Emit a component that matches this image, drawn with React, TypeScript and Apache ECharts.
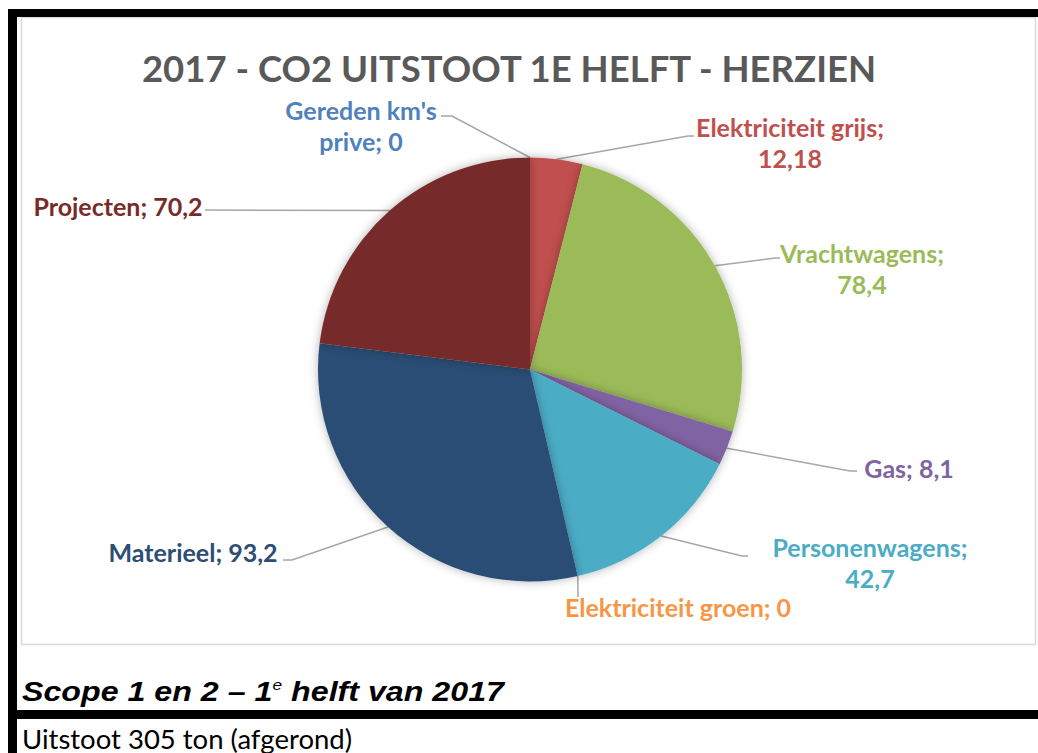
import React, { useEffect, useRef } from "react";
import * as echarts from "echarts";

const categories = [
  "Gereden km's prive",
  "Elektriciteit grijs",
  "Vrachtwagens",
  "Gas",
  "Personenwagens",
  "Elektriciteit groen",
  "Materieel",
  "Projecten",
];
const values = [0, 12.18, 78.4, 8.1, 42.7, 0, 93.2, 70.2];
const colors = ["#4F81BD", "#C0504D", "#9BBB59", "#8064A2", "#4BACC6", "#F79646", "#2C4D75", "#772C2A"];
const labelBreaks: (string | null)[] = ["km's ", "; ", "; ", null, "; ", null, null, null];
const titleText = "2017 - CO2 UITSTOOT 1E HELFT - HERZIEN";
const captionText = "Uitstoot 305 ton (afgerond)";

// label anchor positions (layout only)
const labelLayoutCfg: { x: number; y: number; align: string; bend: number[][] }[] = [
  { x: 361, y: 125, align: "center", bend: [[452, 116], [441, 116]] },
  { x: 790, y: 142, align: "center", bend: [[688, 136], [694, 136]] },
  { x: 862, y: 268, align: "center", bend: [[775, 258], [780, 258]] },
  { x: 909, y: 468, align: "center", bend: [[850, 471], [857, 471]] },
  { x: 870, y: 562, align: "center", bend: [[742, 556], [748, 556]] },
  { x: 678, y: 607, align: "center", bend: [[578, 597]] },
  { x: 193, y: 552, align: "center", bend: [[292, 560], [283, 560]] },
  { x: 118, y: 206, align: "center", bend: [[205, 210]] },
];

const fmt = (v: number) => String(v).replace(".", ",");

export default function App() {
  const ref = useRef<HTMLDivElement>(null);
  useEffect(() => {
    if (!ref.current) return;
    const chart = echarts.init(ref.current, null, { renderer: "svg" });
    const option: any = {
      animation: false,
      backgroundColor: "#ffffff",
      graphic: [
        { type: "rect", z: -10, shape: { x: 21.5, y: 17.5, width: 1014, height: 627 }, style: { fill: "#ffffff", stroke: "#d9d9d9", lineWidth: 1.5 } },
        { type: "rect", z: 10, shape: { x: 8, y: 9, width: 1030, height: 8 }, style: { fill: "#000000" } },
        { type: "rect", z: 10, shape: { x: 8, y: 9, width: 9, height: 744 }, style: { fill: "#000000" } },
        { type: "rect", z: 10, shape: { x: 8, y: 710, width: 1030, height: 9 }, style: { fill: "#000000" } },
        {
          type: "text",
          z: 10,
          x: 509,
          y: 68,
          style: {
            text: titleText,
            font: "bold 36.5px Lato",
            fill: "#595959",
            align: "center",
            verticalAlign: "middle",
          },
        },
        {
          type: "text",
          z: 10,
          x: 22,
          y: 705,
          scaleX: 1.15,
          style: {
            text: "{a|Scope 1 en 2 – 1}{s|e}{a| helft van 2017}",
            align: "left",
            verticalAlign: "bottom",
            rich: {
              a: { font: "italic bold 28px 'Liberation Sans'", fill: "#000000", verticalAlign: "bottom" },
              s: { font: "italic 15px 'Liberation Sans'", fill: "#000000", verticalAlign: "top", padding: [0, 0, 12, 0] },
            },
          },
        },
        {
          type: "text",
          z: 10,
          x: 22,
          y: 738,
          style: {
            text: captionText,
            font: "27.5px Lato",
            fill: "#000000",
            align: "left",
            verticalAlign: "middle",
          },
        },
      ],
      series: [
        {
          type: "pie",
          center: [530, 369.5],
          radius: 212,
          startAngle: 90,
          clockwise: true,
          avoidLabelOverlap: false,
          itemStyle: { borderWidth: 0, shadowBlur: 10, shadowColor: "rgba(0,0,0,0.3)" },
          emphasis: { disabled: true },
          label: {
            show: true,
            position: "outside",
            fontFamily: "Lato",
            fontWeight: "bold",
            fontSize: 25,
            lineHeight: 31,
            align: "center",
            formatter: (p: any) => {
              let t = `${p.name}; ${fmt(p.value)}`;
              const b = labelBreaks[p.dataIndex];
              if (b) t = t.replace(b, b.trimEnd() + "\n");
              return t;
            },
          },
          labelLine: { show: true, lineStyle: { color: "#a6a6a6", width: 1.5 } },
          labelLayout: (p: any) => {
            const L = labelLayoutCfg[p.dataIndex];
            const start = p.labelLinePoints && p.labelLinePoints[0] ? p.labelLinePoints[0] : [530, 369.5];
            return {
              x: L.x,
              y: L.y,
              align: L.align,
              verticalAlign: "middle",
              labelLinePoints: [start, ...L.bend],
            };
          },
          data: categories.map((n, i) => ({
            name: n,
            value: values[i],
            itemStyle: { color: colors[i] },
            label: { color: colors[i] },
          })),
        },
      ],
    };
    chart.setOption(option);
    return () => chart.dispose();
  }, []);
  return <div ref={ref} style={{ position: "absolute", left: 0, top: 0, width: 1038, height: 753 }} />;
}
